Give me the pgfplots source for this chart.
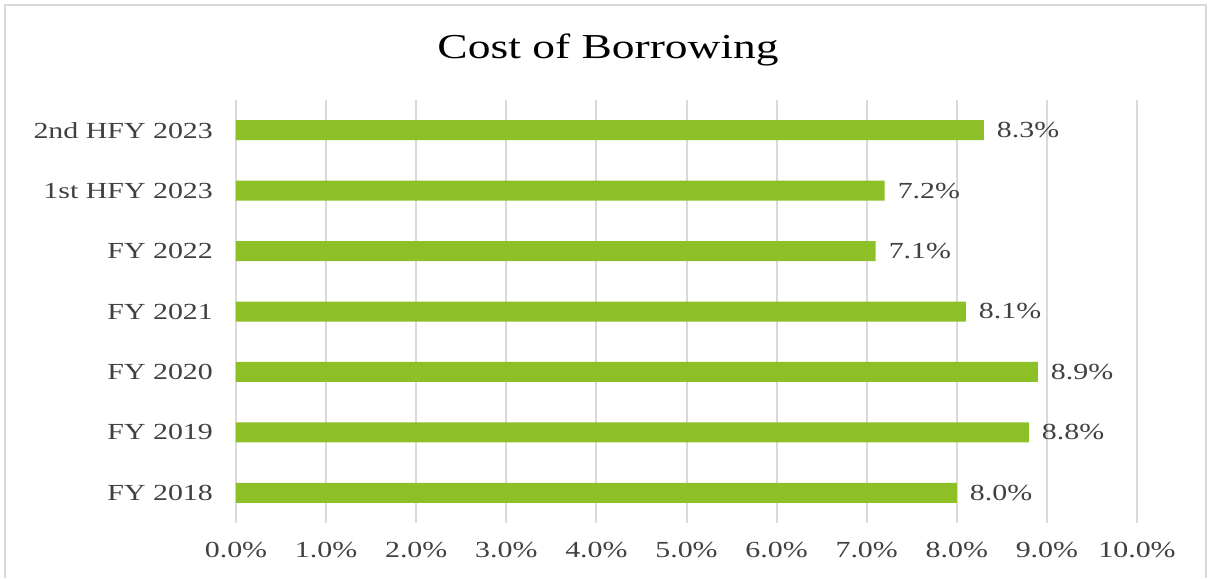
\documentclass[border=0pt]{standalone}
\usepackage{fontspec}
\setmainfont{Liberation Serif}[FakeStretch=1.3]
\usepackage{pgfplots}
\pgfplotsset{compat=1.18}
\definecolor{bargreen}{RGB}{141,192,38}
\definecolor{gridgray}{RGB}{217,217,217}
\definecolor{labelgray}{RGB}{64,64,64}
\definecolor{framegray}{RGB}{217,217,217}

\begin{document}
\begin{tikzpicture}
% page = 1208 x 578 px at 0.5pt per px, axis box lower-left at px (236,523)
\useasboundingbox (-118pt,-27.5pt) rectangle (486pt,261.5pt);
\draw[framegray, line width=1.2pt] (-115.5pt,-27.5pt) -- (-115.5pt,259pt) -- (485pt,259pt) -- (485pt,-27.5pt);
\begin{axis}[
  at={(0pt,0pt)}, anchor=south west,
  scale only axis,
  width=450.5pt, height=211.5pt,
  xbar,
  bar width=10pt,
  xmin=0, xmax=10,
  ymin=-0.5, ymax=6.5,
  xtick={0,1,...,10},
  ytick={0,1,...,6},
  yticklabels={FY 2018, FY 2019, FY 2020, FY 2021, FY 2022, 1st HFY 2023, 2nd HFY 2023},
  xticklabel={\pgfmathprintnumber[fixed,fixed zerofill,precision=1]{\tick}\%},
  /pgf/number format/assume math mode=true,
  tick label style={font=\fontsize{11.5pt}{13pt}\selectfont, text=labelgray},
  xticklabel style={yshift=-6pt},
  yticklabel style={xshift=-8pt},
  major tick length=0pt,
  axis line style={draw=none},
  xmajorgrids,
  grid style={gridgray, line width=1pt},
  nodes near coords={\pgfmathprintnumber[fixed,fixed zerofill,precision=1]{\pgfplotspointmeta}\%},
  every node near coord/.append style={font=\fontsize{11.5pt}{13pt}\selectfont, text=labelgray, xshift=3pt},
  title={Cost of Borrowing},
  title style={font=\fontsize{17.5pt}{20pt}\selectfont, at={(0.413,1)}, yshift=7.5pt},
]
\addplot[fill=bargreen, draw=none] coordinates {
  (8.0,0) (8.8,1) (8.9,2) (8.1,3) (7.1,4) (7.2,5) (8.3,6)
};
\end{axis}
\end{tikzpicture}
\end{document}
